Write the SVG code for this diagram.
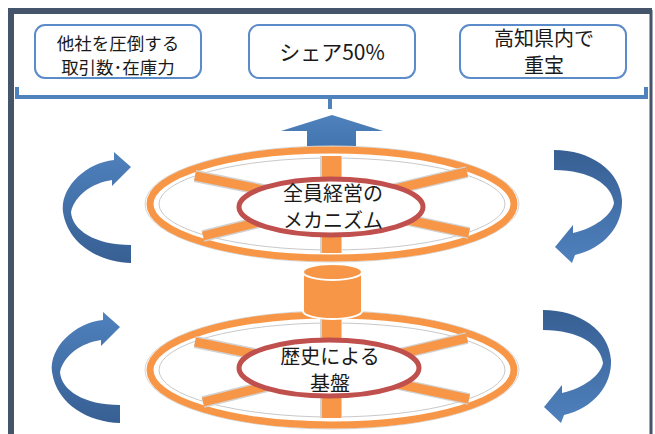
<svg xmlns="http://www.w3.org/2000/svg" width="655" height="434" viewBox="0 0 655 434">
  <defs>
    <style>
      .box { fill: #ffffff; stroke: #5b8bc9; stroke-width: 2; }
      .txt { font-family: "Noto Sans CJK JP", "Noto Sans CJK SC", sans-serif; fill: #1a1a1a; text-anchor: middle; }
      .halo { fill: #ffffff; stroke: #d6d6d6; stroke-width: 1; }
      .ring { fill: none; stroke: #f79646; stroke-width: 7; }
      .inner { fill: none; stroke: #c9c9c9; stroke-width: 1; }
      .spoke-edge { stroke: #d2d2d2; stroke-width: 12; stroke-linecap: butt; }
      .spoke { stroke: #f79646; stroke-width: 9; stroke-linecap: butt; }
      .core { fill: #ffffff; stroke: #c0504d; stroke-width: 5; }
      .cyl { fill: #f79646; stroke: #ffffff; stroke-width: 2; }
    </style>
    <linearGradient id="gradDown" x1="0" y1="0" x2="0" y2="1">
      <stop offset="0" stop-color="#4f81bd"/>
      <stop offset="1" stop-color="#375f93"/>
    </linearGradient>
    <linearGradient id="gradUp" x1="0" y1="0" x2="0" y2="1">
      <stop offset="0" stop-color="#375f93"/>
      <stop offset="1" stop-color="#4f81bd"/>
    </linearGradient>
    <linearGradient id="gradBlock" x1="0" y1="0" x2="0" y2="1">
      <stop offset="0" stop-color="#4f81bd"/>
      <stop offset="1" stop-color="#4274b0"/>
    </linearGradient>
    <!-- curved arrow, hook open to the right, head pointing right -->
    <path id="arcLeft" d="M131,263 C100,262 68,245 63,212 C60,188 85,163 114,160 L114,152 L131,167 L112,186 L112,180 C92,183 75,195 71,212 C72,230 95,245 131,245 Z"/>
    <!-- curved arrow, hook open to the left, head pointing left -->
    <path id="arcRight" d="M554,150 C590,150 620,170 622,200 C623,225 605,248 575,255 L572,263 L555,247 L573,225 L573,233 C595,228 612,215 614,203 C612,185 590,170 554,170 Z"/>
  </defs>

  <rect width="655" height="434" fill="#ffffff"/>

  <!-- outer frame -->
  <g id="frame" fill="none" stroke="#44546a">
    <path d="M11,434 V11 H652" stroke-width="6"/>
    <path d="M651,10 V434" stroke-width="3"/>
  </g>

  <!-- result boxes -->
  <g id="box-trade">
    <rect class="box" x="35" y="25" width="166" height="53" rx="10"/>
    <text class="txt" x="118" y="50" font-size="17.5">他社を圧倒する</text>
    <text class="txt" x="118" y="74" font-size="17.5">取引数･在庫力</text>
  </g>
  <g id="box-share">
    <rect class="box" x="249" y="25" width="166" height="53" rx="10"/>
    <text class="txt" x="332" y="60" font-size="21">シェア50%</text>
  </g>
  <g id="box-local">
    <rect class="box" x="460" y="25" width="166" height="53" rx="10"/>
    <text class="txt" x="544" y="46" font-size="20">高知県内で</text>
    <text class="txt" x="544" y="73" font-size="20">重宝</text>
  </g>

  <g id="connectors">
    <!-- bracket under the boxes -->
    <path d="M17,87 V97 H646 V87 M330,97 V109" fill="none" stroke="#4f81bd" stroke-width="4"/>
    <!-- block arrow rising from the upper wheel -->
    <polygon points="332,115 383,131 356,131 356,148 307,148 307,131 281,131" fill="url(#gradBlock)"/>
    <!-- rotation arrows -->
    <use href="#arcLeft" fill="url(#gradDown)"/>
    <use href="#arcRight" fill="url(#gradUp)"/>
    <use href="#arcLeft" fill="url(#gradDown)" transform="translate(-11,160)"/>
    <use href="#arcRight" fill="url(#gradUp)" transform="translate(-11,160)"/>
  </g>

  <!-- upper wheel: management mechanism -->
  <g id="wheel-upper">
    <ellipse class="halo" cx="332" cy="204" rx="187" ry="58"/>
    <ellipse class="ring" cx="332" cy="204" rx="182" ry="54"/>
    <ellipse class="inner" cx="332" cy="204" rx="173" ry="46"/>
    <g>
      <line class="spoke-edge" x1="332" y1="204" x2="195" y2="176"/>
      <line class="spoke-edge" x1="332" y1="204" x2="203" y2="236"/>
      <line class="spoke-edge" x1="332" y1="204" x2="467" y2="172"/>
      <line class="spoke-edge" x1="332" y1="204" x2="469" y2="233"/>
      <line class="spoke" x1="332" y1="204" x2="195" y2="176"/>
      <line class="spoke" x1="332" y1="204" x2="203" y2="236"/>
      <line class="spoke" x1="332" y1="204" x2="467" y2="172"/>
      <line class="spoke" x1="332" y1="204" x2="469" y2="233"/>
      <rect x="320" y="156" width="22" height="97" fill="#d2d2d2"/>
      <rect x="322" y="156" width="19" height="97" fill="#f79646"/>
    </g>
    <ellipse class="core" cx="331" cy="207" rx="92" ry="28"/>
    <text class="txt" x="333" y="201" font-size="20">全員経営の</text>
    <text class="txt" x="333" y="228" font-size="20">メカニズム</text>
  </g>

  <!-- lower wheel: historical foundation -->
  <g id="wheel-lower">
    <ellipse class="halo" cx="332" cy="370" rx="187" ry="59"/>
    <ellipse class="ring" cx="332" cy="370" rx="182" ry="55"/>
    <ellipse class="inner" cx="332" cy="370" rx="173" ry="47"/>
    <g>
      <line class="spoke-edge" x1="332" y1="370" x2="195" y2="342"/>
      <line class="spoke-edge" x1="332" y1="370" x2="203" y2="402"/>
      <line class="spoke-edge" x1="332" y1="370" x2="467" y2="338"/>
      <line class="spoke-edge" x1="332" y1="370" x2="469" y2="399"/>
      <line class="spoke" x1="332" y1="370" x2="195" y2="342"/>
      <line class="spoke" x1="332" y1="370" x2="203" y2="402"/>
      <line class="spoke" x1="332" y1="370" x2="467" y2="338"/>
      <line class="spoke" x1="332" y1="370" x2="469" y2="399"/>
      <rect x="320" y="318" width="22" height="100" fill="#d2d2d2"/>
      <rect x="322" y="318" width="19" height="100" fill="#f79646"/>
    </g>
  </g>

  <!-- shaft joining the two wheels -->
  <g id="shaft">
    <path class="cyl" d="M303,272 V311 A29.5,8 0 0 0 362,311 V272 Z"/>
    <ellipse class="cyl" cx="332.5" cy="272" rx="29.5" ry="8"/>
  </g>

  <g id="core-lower">
    <ellipse class="core" cx="329" cy="368" rx="90" ry="28"/>
    <text class="txt" x="330" y="364" font-size="20">歴史による</text>
    <text class="txt" x="330" y="391" font-size="20">基盤</text>
  </g>
</svg>
